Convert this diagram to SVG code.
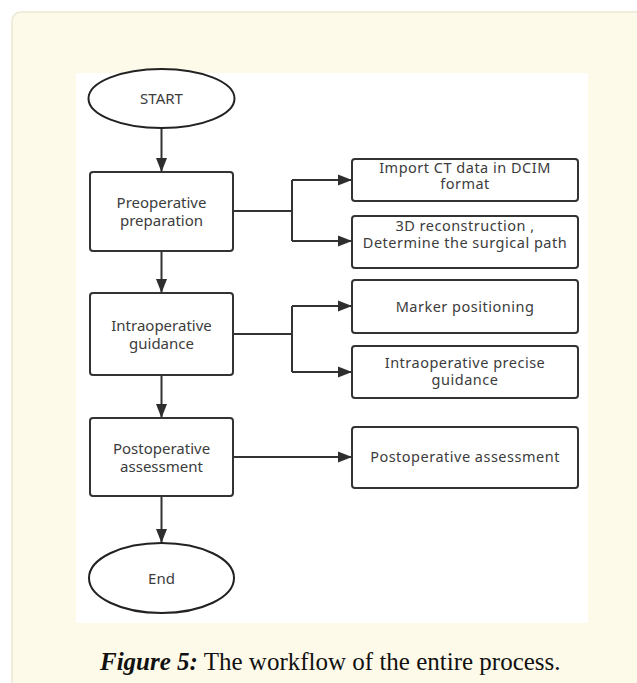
<svg xmlns="http://www.w3.org/2000/svg" width="637" height="683" viewBox="0 0 637 683">
<defs>
<marker id="arr" markerUnits="userSpaceOnUse" markerWidth="15" markerHeight="12" refX="14" refY="6" orient="auto">
<path d="M0,0.5 L14,6 L0,11.5 Z" fill="#2e2e2e"/>
</marker>
<style>
.box{fill:#fff;stroke:#333;stroke-width:2}
.ell{fill:#fff;stroke:#222;stroke-width:2}
.t{font-family:"Noto Sans","Open Sans",sans-serif;font-size:15px;fill:#3c3c3c;text-anchor:middle}
.r{font-size:14.5px;letter-spacing:0.5px}
.c{fill:none;stroke:#333;stroke-width:2}
.cap{font-family:"Liberation Serif","Times New Roman",serif;font-size:25px;fill:#111}
</style>
</defs>
<rect x="0" y="0" width="637" height="683" fill="#fff"/>
<rect x="12" y="12" width="650" height="700" rx="9" fill="#FEFAE9" stroke="#ECE8D5" stroke-width="1.5"/>
<rect x="76" y="73" width="512" height="550" fill="#fff"/>

<g id="connectors">
<line class="c" x1="161.5" y1="128" x2="161.5" y2="172" marker-end="url(#arr)"/>
<line class="c" x1="161.5" y1="251" x2="161.5" y2="293" marker-end="url(#arr)"/>
<line class="c" x1="161.5" y1="375" x2="161.5" y2="418" marker-end="url(#arr)"/>
<line class="c" x1="161.5" y1="496" x2="161.5" y2="543" marker-end="url(#arr)"/>
<line class="c" x1="233" y1="211" x2="292" y2="211"/>
<line class="c" x1="292" y1="180" x2="292" y2="241"/>
<line class="c" x1="292" y1="180" x2="352" y2="180" marker-end="url(#arr)"/>
<line class="c" x1="292" y1="241" x2="352" y2="241" marker-end="url(#arr)"/>
<line class="c" x1="233" y1="334" x2="292" y2="334"/>
<line class="c" x1="292" y1="306" x2="292" y2="372"/>
<line class="c" x1="292" y1="306" x2="352" y2="306" marker-end="url(#arr)"/>
<line class="c" x1="292" y1="372" x2="352" y2="372" marker-end="url(#arr)"/>
<line class="c" x1="233" y1="457" x2="352" y2="457" marker-end="url(#arr)"/>
</g>

<g id="start">
<ellipse class="ell" cx="161.5" cy="98.5" rx="73" ry="29.5"/>
<text class="t" x="161.5" y="104">START</text>
</g>
<g id="preop">
<rect class="box" x="90" y="172" width="143" height="79" rx="3"/>
<text class="t" x="161.5" y="208">Preoperative</text>
<text class="t" x="161.5" y="226">preparation</text>
</g>
<g id="intraop">
<rect class="box" x="90" y="293" width="143" height="82" rx="3"/>
<text class="t" x="161.5" y="331">Intraoperative</text>
<text class="t" x="161.5" y="349">guidance</text>
</g>
<g id="postop">
<rect class="box" x="90" y="418" width="143" height="78" rx="3"/>
<text class="t" x="161.5" y="454">Postoperative</text>
<text class="t" x="161.5" y="472">assessment</text>
</g>
<g id="end">
<ellipse class="ell" cx="161.5" cy="578" rx="72.5" ry="35"/>
<text class="t" x="161.5" y="584">End</text>
</g>
<g id="import">
<rect class="box" x="352" y="159" width="226" height="42" rx="3"/>
<text class="t r" x="465" y="173">Import CT data in DCIM</text>
<text class="t r" x="465" y="189">format</text>
</g>
<g id="recon">
<rect class="box" x="352" y="216" width="226" height="52" rx="3"/>
<text class="t r" x="465" y="231">3D reconstruction ,</text>
<text class="t r" x="465" y="248">Determine the surgical path</text>
</g>
<g id="marker">
<rect class="box" x="352" y="280" width="226" height="53" rx="3"/>
<text class="t r" x="465" y="312">Marker positioning</text>
</g>
<g id="precise">
<rect class="box" x="352" y="346" width="226" height="52" rx="3"/>
<text class="t r" x="465" y="368">Intraoperative precise</text>
<text class="t r" x="465" y="385">guidance</text>
</g>
<g id="assess">
<rect class="box" x="352" y="427" width="226" height="61" rx="3"/>
<text class="t r" x="465" y="462">Postoperative assessment</text>
</g>

<text class="cap" x="100" y="670"><tspan font-weight="bold" font-style="italic">Figure 5:</tspan> The workflow of the entire process.</text>
</svg>
